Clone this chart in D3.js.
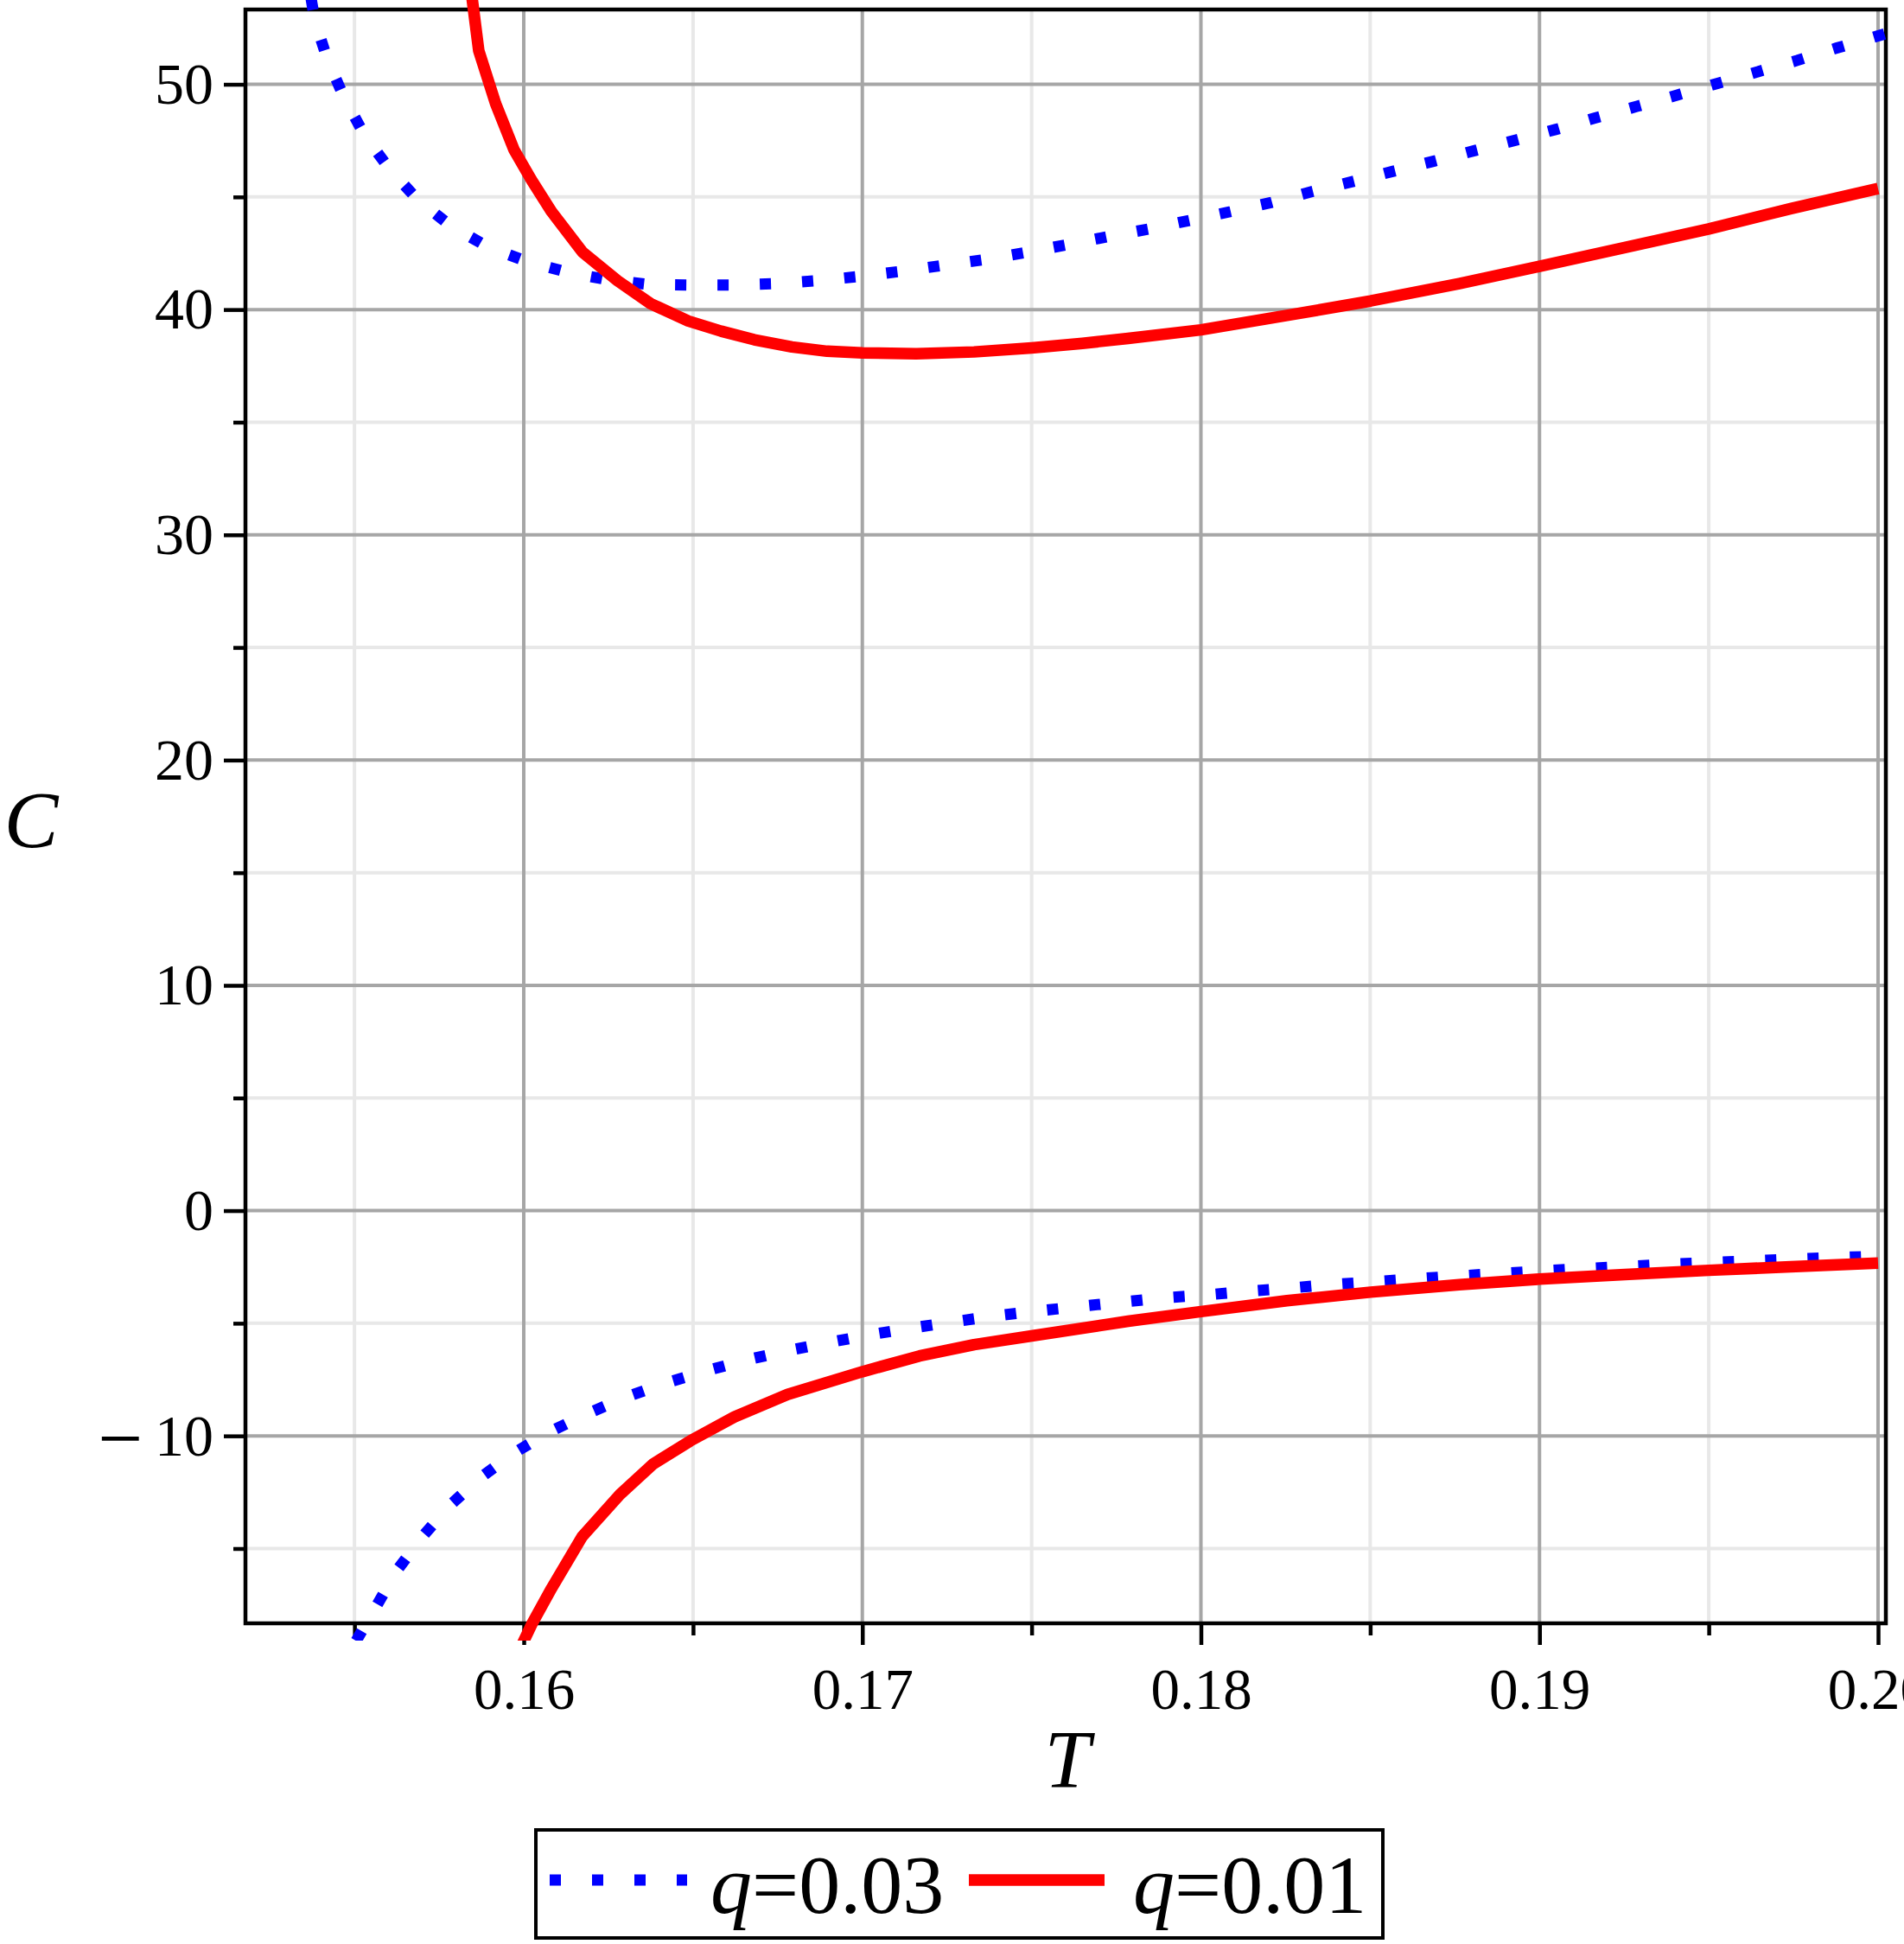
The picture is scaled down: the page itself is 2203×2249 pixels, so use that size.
<!DOCTYPE html>
<html>
<head>
<meta charset="utf-8">
<script src="https://cdn.jsdelivr.net/npm/d3@7"></script>
<style>
  body { margin: 0; background: #fff; }
  text { font-family: "Liberation Serif", "Times New Roman", serif; }
</style>
</head>
<body>
<svg id="chart" width="2203" height="2249"></svg>
<script>
// q=0.03, upper branch  [T, C]
const q03Upper = [
    [0.15372, 53.8], [0.15383, 52.83], [0.15421, 51.06], [0.15471, 49.36], [0.1553, 47.74],
    [0.15604, 46.23], [0.15688, 44.86], [0.15785, 43.71], [0.15893, 42.79], [0.16008, 42.14],
    [0.16128, 41.66], [0.16249, 41.32], [0.16372, 41.11], [0.16495, 41.09], [0.1662, 41.09],
    [0.16744, 41.15], [0.16867, 41.28], [0.16991, 41.47], [0.17116, 41.70], [0.17237, 41.96],
    [0.17358, 42.21], [0.17481, 42.53], [0.17605, 42.88], [0.17726, 43.24], [0.17847, 43.58],
    [0.17967, 43.96], [0.18088, 44.35], [0.18209, 44.76], [0.18329, 45.24], [0.1845, 45.69],
    [0.18568, 46.14], [0.18689, 46.59], [0.18812, 47.07], [0.1893, 47.52], [0.19047, 47.99],
    [0.19164, 48.50], [0.19288, 49.02], [0.19409, 49.53], [0.19526, 50.04], [0.19643, 50.55],
    [0.19761, 51.06], [0.19878, 51.61], [0.20023, 52.25],
];
// q=0.03, lower branch
const q03Lower = [
    [0.15505, -19.1], [0.15561, -17.65], [0.15624, -16.0], [0.15698, -14.52], [0.1578, -13.11],
    [0.15871, -11.86], [0.15971, -10.76], [0.16078, -9.81], [0.1619, -9.0], [0.16305, -8.26],
    [0.1642, -7.65], [0.16542, -7.10], [0.16661, -6.62], [0.16781, -6.21], [0.16902, -5.85],
    [0.17023, -5.51], [0.17143, -5.22], [0.17266, -4.94], [0.17389, -4.68], [0.17515, -4.46],
    [0.17638, -4.26], [0.17761, -4.07], [0.17883, -3.88], [0.1801, -3.75], [0.18131, -3.59],
    [0.18254, -3.45], [0.18376, -3.29], [0.18499, -3.17], [0.18622, -3.04], [0.18748, -2.91],
    [0.18871, -2.80], [0.18994, -2.69], [0.19119, -2.58], [0.19243, -2.49], [0.19366, -2.39],
    [0.19491, -2.31], [0.19614, -2.24], [0.19738, -2.16], [0.19859, -2.09], [0.19982, -2.03],
    [0.20023, -2.01],
];
// q=0.01, upper branch
const q01Upper = [
    [0.15840, 54.7], [0.15848, 53.75], [0.15867, 51.5], [0.15917, 49.14], [0.15971, 47.1],
    [0.16023, 45.75], [0.16082, 44.35], [0.16173, 42.56], [0.16277, 41.28], [0.16375, 40.26],
    [0.16486, 39.49], [0.16583, 39.04], [0.16681, 38.66], [0.16792, 38.34], [0.16896, 38.15],
    [0.17, 38.08], [0.17159, 38.04], [0.1733, 38.12], [0.175, 38.3], [0.1765, 38.5],
    [0.17785, 38.72], [0.18, 39.10], [0.18254, 39.74], [0.18501, 40.38], [0.18763, 41.15],
    [0.19, 41.92], [0.19252, 42.75], [0.195, 43.58], [0.19742, 44.48], [0.2, 45.37],
];
// q=0.01, lower branch
const q01Lower = [
    [0.15997, -19.2], [0.16023, -18.38], [0.16082, -16.77], [0.16173, -14.46], [0.16284, -12.6],
    [0.16382, -11.25], [0.16492, -10.22], [0.16622, -9.16], [0.16779, -8.16], [0.17, -7.15],
    [0.17169, -6.45], [0.1733, -5.95], [0.175, -5.56], [0.17785, -4.91], [0.18, -4.48],
    [0.18254, -4.0], [0.18501, -3.62], [0.18763, -3.29], [0.19, -3.04], [0.19252, -2.84],
    [0.195, -2.65], [0.19742, -2.49], [0.2, -2.33],
];

const xMajor = [0.16, 0.17, 0.18, 0.19, 0.20];
const xMinor = [0.155, 0.165, 0.175, 0.185, 0.195];
const yMajor = [-10, 0, 10, 20, 30, 40, 50];
const yMinor = [-15, -5, 5, 15, 25, 35, 45];
const legendLabels = ['0.03', '0.01'];

const LEFT = 284, RIGHT = 2182, TOP = 11, BOTTOM = 1878;

const svg = d3.select('#chart');
svg.append('rect').attr('width', 2203).attr('height', 2249).attr('fill', '#fff');

const x = d3.scaleLinear().domain([0.15178, 0.20023]).range([LEFT, RIGHT]);
const y = d3.scaleLinear().domain([-18.32, 53.32]).range([BOTTOM, TOP]);

// grid
const grid = svg.append('g');
const gridLines = (vals, color, vertical) => {
    grid.selectAll(null).data(vals).enter().append('line')
        .attr('x1', (d) => vertical ? x(d) : LEFT)
        .attr('x2', (d) => vertical ? x(d) : RIGHT)
        .attr('y1', (d) => vertical ? TOP : y(d))
        .attr('y2', (d) => vertical ? BOTTOM : y(d))
        .attr('stroke', color)
        .attr('stroke-width', 4);
};
gridLines(xMinor, '#e8e8e8', true);
gridLines(yMinor, '#e8e8e8', false);
gridLines(xMajor, '#a6a6a6', true);
gridLines(yMajor, '#a6a6a6', false);

// frame
svg.append('rect')
    .attr('x', LEFT).attr('y', TOP)
    .attr('width', RIGHT - LEFT).attr('height', BOTTOM - TOP)
    .attr('fill', 'none').attr('stroke', '#000').attr('stroke-width', 4.5);

// axes
const styleAxis = (g) => {
    g.select('.domain').remove();
    g.selectAll('.tick line').attr('stroke', '#000').attr('stroke-width', 4.5);
    g.selectAll('text').attr('fill', '#000').style('font-family', '"Liberation Serif", serif');
};
const fmtX = (d) => d3.format('.2f')(d);

svg.append('g').attr('transform', `translate(0,${BOTTOM})`)
    .call(d3.axisBottom(x).tickValues(xMajor).tickSize(25).tickPadding(26).tickFormat(fmtX))
    .call(styleAxis)
    .selectAll('text').attr('font-size', 67);
svg.append('g').attr('transform', `translate(0,${BOTTOM})`)
    .call(d3.axisBottom(x).tickValues(xMinor).tickSize(14).tickFormat(''))
    .call(styleAxis);
const yAxis = svg.append('g').attr('transform', `translate(${LEFT},0)`)
    .call(d3.axisLeft(y).tickValues(yMajor).tickSize(25).tickPadding(12).tickFormat((d) => Math.abs(d)))
    .call(styleAxis);
yAxis.selectAll('text').attr('font-size', 68)
    .each(function(d) {
        if (d >= 0) return;
        // long minus sign, as in the Maple output
        const t = d3.select(this);
        const num = t.text();
        t.text(null).attr('dy', null);
        t.append('tspan').attr('font-size', 92).attr('dy', 33).text('\u2212');
        t.append('tspan').attr('dy', -11).text('\u2009' + num);
    });
svg.append('g').attr('transform', `translate(${LEFT},0)`)
    .call(d3.axisLeft(y).tickValues(yMinor).tickSize(14).tickFormat(''))
    .call(styleAxis);

// axis titles
svg.append('text').attr('x', 36).attr('y', 980)
    .attr('text-anchor', 'middle').attr('font-size', 94).attr('font-style', 'italic').text('C');
svg.append('text').attr('x', 1235).attr('y', 2068)
    .attr('text-anchor', 'middle').attr('font-size', 95).attr('font-style', 'italic').text('T');

// curves
svg.append('clipPath').attr('id', 'clip').append('rect')
    .attr('x', LEFT).attr('y', 0).attr('width', RIGHT - LEFT).attr('height', 1898);
const line = d3.line().x((d) => x(d[0])).y((d) => y(d[1]));
const curves = svg.append('g').attr('clip-path', 'url(#clip)');
[q03Upper, q03Lower].forEach((data) => {
    curves.append('path').attr('d', line(data))
        .attr('fill', 'none').attr('stroke', '#0000ff')
        .attr('stroke-width', 13).attr('stroke-dasharray', '13 36');
});
[q01Upper, q01Lower].forEach((data) => {
    curves.append('path').attr('d', line(data))
        .attr('fill', 'none').attr('stroke', '#ff0000')
        .attr('stroke-width', 13.5).attr('stroke-linejoin', 'round');
});

// legend
const lg = svg.append('g');
lg.append('rect').attr('x', 620).attr('y', 2117).attr('width', 980).attr('height', 125)
    .attr('fill', '#fff').attr('stroke', '#000').attr('stroke-width', 4);
lg.append('line').attr('x1', 636).attr('x2', 795).attr('y1', 2175).attr('y2', 2175)
    .attr('stroke', '#0000ff').attr('stroke-width', 13).attr('stroke-dasharray', '13 36');
lg.append('line').attr('x1', 1121).attr('x2', 1278).attr('y1', 2175).attr('y2', 2175)
    .attr('stroke', '#ff0000').attr('stroke-width', 13.5);
[822, 1311].forEach((lx, i) => {
    const t = lg.append('text').attr('x', lx).attr('y', 2213).attr('font-size', 96);
    t.append('tspan').attr('font-style', 'italic').text('q');
    t.append('tspan').text('=' + legendLabels[i]);
});
</script>
</body>
</html>
